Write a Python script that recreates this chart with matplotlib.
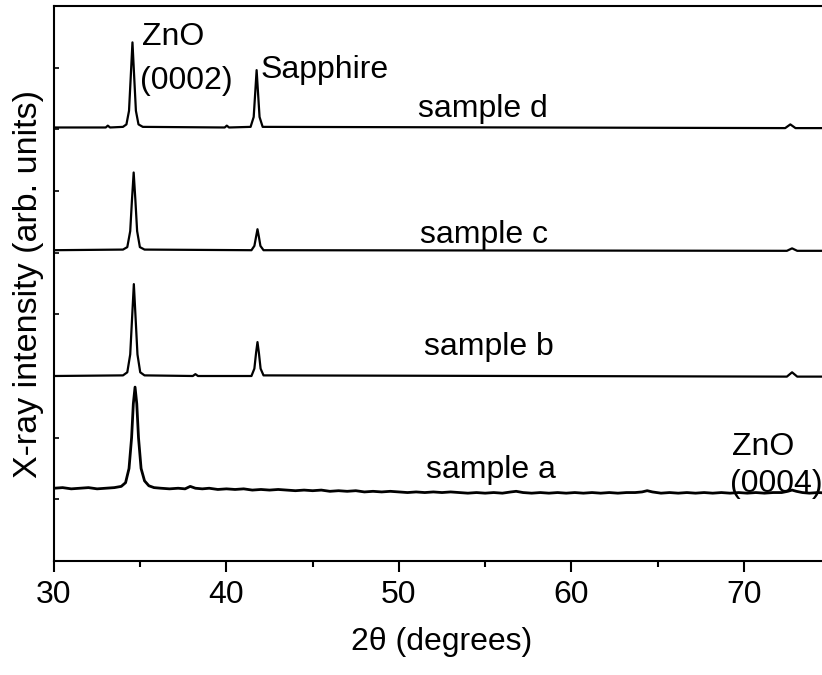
import matplotlib
matplotlib.use("Agg")
import matplotlib.pyplot as plt

plt.rcParams['font.family'] = ['Liberation Sans', 'DejaVu Sans']

# ---- data (2theta in degrees, intensity in arb. units, offset) ----
d_x = [30, 33.0, 33.12, 33.25, 34.0, 34.2, 34.35, 34.45, 34.55, 34.65, 34.75, 34.9, 35.15,
       39.9, 40.02, 40.15, 41.4, 41.58, 41.67, 41.75, 41.83, 41.92, 42.1, 72.4, 72.7, 73.0, 75]
d_y = [7.03, 7.03, 7.06, 7.03, 7.04, 7.08, 7.3, 7.85, 8.41, 7.85, 7.3, 7.08, 7.04,
       7.03, 7.06, 7.03, 7.04, 7.2, 7.6, 7.96, 7.6, 7.2, 7.04, 7.02, 7.08, 7.02, 7.02]

c_x = [30, 34.0, 34.25, 34.42, 34.52, 34.62, 34.72, 34.82, 34.98, 35.25,
       41.45, 41.62, 41.72, 41.8, 41.88, 41.97, 42.15, 72.5, 72.8, 73.1, 75]
c_y = [5.04, 5.05, 5.09, 5.35, 5.85, 6.30, 5.85, 5.35, 5.09, 5.05,
       5.04, 5.11, 5.26, 5.38, 5.26, 5.11, 5.04, 5.03, 5.07, 5.03, 5.03]

b_x = [30, 34.0, 34.25, 34.42, 34.53, 34.63, 34.73, 34.84, 35.0, 35.25,
       38.05, 38.2, 38.35, 41.45, 41.62, 41.72, 41.8, 41.88, 41.98, 42.15, 72.5, 72.8, 73.1, 75]
b_y = [3.00, 3.01, 3.06, 3.35, 3.95, 4.49, 3.95, 3.35, 3.06, 3.01,
       3.00, 3.03, 3.00, 3.00, 3.12, 3.38, 3.55, 3.38, 3.12, 3.01, 2.99, 3.06, 2.99, 2.99]

a_x = [30, 30.5, 31, 31.5, 32, 32.5, 33, 33.5, 33.9, 34.15, 34.35, 34.5, 34.6, 34.7, 34.8,
       34.9, 35.05, 35.25, 35.5, 35.8, 36.2, 36.7, 37.2, 37.6, 37.9, 38.2, 38.6, 39.0,
       39.5, 40, 40.5, 41, 41.5, 42, 42.5, 43, 43.5, 44, 44.5, 45, 45.5, 46, 46.5, 47,
       47.5, 48, 48.5, 49, 49.5, 50, 50.5, 51, 51.5, 52, 52.5, 53, 53.5, 54, 54.5, 55,
       55.5, 56, 56.5, 56.8, 57.2, 57.7, 58.2, 58.7, 59.2, 59.7, 60.2, 60.7, 61.2, 61.7,
       62.2, 62.7, 63.2, 63.7, 64.1, 64.4, 64.7, 65.2, 65.7, 66.2, 66.7, 67.2, 67.7,
       68.2, 68.7, 69.2, 69.7, 70.2, 70.7, 71.2, 71.7, 72.2, 72.55, 72.8, 73.05, 73.4,
       73.8, 74.3, 75]
a_y = [1.18, 1.19, 1.17, 1.18, 1.19, 1.17, 1.18, 1.19, 1.21, 1.27, 1.5, 2.0, 2.55, 2.82, 2.55,
       2.0, 1.5, 1.3, 1.22, 1.19, 1.18, 1.17, 1.18, 1.17, 1.21, 1.18, 1.17, 1.18,
       1.16, 1.17, 1.16, 1.17, 1.15, 1.16, 1.15, 1.16, 1.15, 1.14, 1.15, 1.14, 1.15, 1.13, 1.14, 1.13,
       1.14, 1.12, 1.13, 1.12, 1.13, 1.12, 1.11, 1.12, 1.11, 1.12, 1.11, 1.12, 1.11, 1.10, 1.11, 1.10,
       1.11, 1.10, 1.12, 1.13, 1.11, 1.10, 1.11, 1.10, 1.11, 1.10, 1.11, 1.10, 1.11, 1.10,
       1.11, 1.10, 1.11, 1.11, 1.12, 1.14, 1.12, 1.10, 1.11, 1.10, 1.11, 1.10, 1.11,
       1.10, 1.11, 1.10, 1.11, 1.10, 1.11, 1.10, 1.11, 1.11, 1.13, 1.15, 1.13, 1.11,
       1.10, 1.11, 1.10]

sample_labels = ["sample a", "sample b", "sample c", "sample d"]
sample_label_x = [51.55, 51.45, 51.2, 51.1]
sample_label_y = [1.35, 3.34, 5.15, 7.2]

xticks_major = [30, 40, 50, 60, 70]
xticks_minor = [35, 45, 55, 65, 75]
yticks = [1, 2, 3, 4, 5, 6, 7, 8]

# ---- figure ----
fig = plt.figure(figsize=(8.22, 6.75), dpi=100)
ax = fig.add_axes([54 / 822, 114 / 675, (830 - 54) / 822, 555 / 675])

FS = 23
for xs, ys, lw in [(a_x, a_y, 2.0), (b_x, b_y, 1.6), (c_x, c_y, 1.6), (d_x, d_y, 1.6)]:
    ax.plot(xs, ys, color='black', lw=lw, solid_joinstyle='round')

for lab, lx, ly in zip(sample_labels, sample_label_x, sample_label_y):
    ax.text(lx, ly, lab, fontsize=FS, ha='left', va='baseline')

ax.text(35.1, 8.36, "ZnO", fontsize=FS, ha='left', va='baseline')
ax.text(35.0, 7.65, "(0002)", fontsize=FS, ha='left', va='baseline')
ax.text(42.0, 7.83, "Sapphire", fontsize=FS, ha='left', va='baseline')
ax.text(69.3, 1.72, "ZnO", fontsize=FS, ha='left', va='baseline')
ax.text(69.2, 1.12, "(0004)", fontsize=FS, ha='left', va='baseline')

ax.set_xlim(30, 75)
ax.set_ylim(0, 9)
ax.set_xticks(xticks_major)
ax.set_xticks(xticks_minor, minor=True)
ax.set_yticks(yticks)
ax.set_yticklabels([])
ax.tick_params(axis='x', which='major', direction='out', length=8, width=1.5, labelsize=FS, pad=6)
ax.tick_params(axis='x', which='minor', direction='out', length=4.5, width=1.5)
ax.tick_params(axis='y', which='major', direction='in', length=3.5, width=1.2)
for sp in ax.spines.values():
    sp.set_linewidth(1.5)

ax.set_xlabel("2θ (degrees)", fontsize=FS, labelpad=12)
ax.set_ylabel("X-ray intensity (arb. units)", fontsize=24.5, labelpad=3.5)

fig.savefig("out.png", dpi=100)
